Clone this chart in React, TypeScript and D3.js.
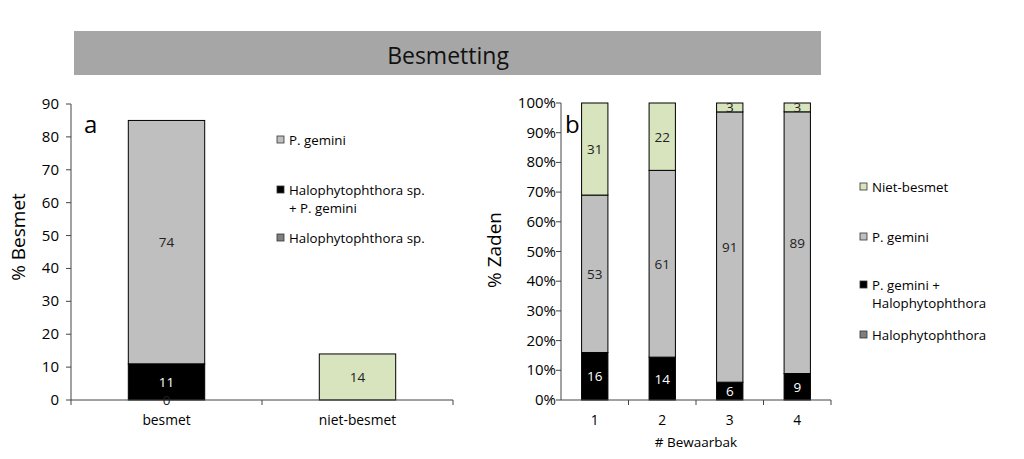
import React from "react";
import * as d3 from "d3";

const TITLE = "Besmetting";

// Chart a
const catsA = ["besmet", "niet-besmet"];
const halophytoA = [0, 0];
const halophytoGeminiA = [11, 0];
const geminiA = [74, 0];
const nietBesmetA = [0, 14];
const ticksA = [0, 10, 20, 30, 40, 50, 60, 70, 80, 90];

// Chart b
const catsB = ["1", "2", "3", "4"];
const halophytoB = [0, 0, 0, 0];
const geminiHalophytoB = [16, 14, 6, 9];
const geminiB = [53, 61, 91, 89];
const nietBesmetB = [31, 22, 3, 3];
const ticksB = [0, 0.1, 0.2, 0.3, 0.4, 0.5, 0.6, 0.7, 0.8, 0.9, 1];

const legendA = ["P. gemini", "Halophytophthora sp.|+ P. gemini", "Halophytophthora sp."];
const legendB = ["Niet-besmet", "P. gemini", "P. gemini +|Halophytophthora", "Halophytophthora"];

const C_GRAY = "#BFBFBF";
const C_BLACK = "#000000";
const C_GREEN = "#D7E4BD";
const C_DARK = "#7F7F7F";
const FONT = "'Open Sans', sans-serif";

export default function App() {
  // ---------- Chart a ----------
  const xA = d3.scaleBand<string>().domain(catsA).range([71, 453]).paddingInner(0.6).paddingOuter(0.3);
  const yA = d3.scaleLinear().domain([0, 90]).range([400, 104]);
  const seriesA = [
    { name: "halo", values: halophytoA, color: C_DARK, text: "#000" },
    { name: "halogem", values: halophytoGeminiA, color: C_BLACK, text: "#fff" },
    { name: "gem", values: geminiA, color: C_GRAY, text: "#000" },
    { name: "niet", values: nietBesmetA, color: C_GREEN, text: "#000" },
  ];
  const rowsA = catsA.map((c, i) => {
    const r: any = { cat: c };
    seriesA.forEach((s) => (r[s.name] = s.values[i]));
    return r;
  });
  const stackA = d3.stack<any>().keys(seriesA.map((s) => s.name))(rowsA);

  // ---------- Chart b ----------
  const xB = d3.scaleBand<string>().domain(catsB).range([561, 831]).paddingInner(0.61).paddingOuter(0.305);
  const yB = d3.scaleLinear().domain([0, 1]).range([400, 103]);
  const seriesB = [
    { name: "halo", values: halophytoB, color: C_DARK, text: "#000" },
    { name: "gemhalo", values: geminiHalophytoB, color: C_BLACK, text: "#fff" },
    { name: "gem", values: geminiB, color: C_GRAY, text: "#000" },
    { name: "niet", values: nietBesmetB, color: C_GREEN, text: "#000" },
  ];
  const rowsB = catsB.map((c, i) => {
    const r: any = { cat: c };
    seriesB.forEach((s) => (r[s.name] = s.values[i]));
    return r;
  });
  const stackB = d3.stack<any>().keys(seriesB.map((s) => s.name)).offset(d3.stackOffsetExpand)(rowsB);

  const fmtPct = d3.format(".0%");

  const legendItem = (label: string, color: string, x: number, y: number, key: string) => {
    const lines = label.split("|");
    return (
      <g key={key}>
        <rect x={x} y={y - 9} width={7} height={7} fill={color} stroke="#333" strokeWidth={0.8} />
        {lines.map((l, j) => (
          <text key={j} x={x + 12} y={y + j * 18} fontSize={13.3} fontFamily={FONT} fill="#000">
            {l}
          </text>
        ))}
      </g>
    );
  };

  return (
    <svg width={1024} height={459} style={{ position: "absolute", left: 0, top: 0, background: "#fff" }}>
      {/* Title */}
      <rect x={74} y={31} width={747} height={44} fill="#A6A6A6" />
      <text x={448} y={64} textAnchor="middle" fontSize={23} fontFamily={FONT} fill="#111">
        {TITLE}
      </text>

      {/* ===== Chart a ===== */}
      <line x1={71} x2={71} y1={yA(90)} y2={yA(0)} stroke="#444" />
      {ticksA.map((t) => (
        <g key={t}>
          <line x1={66} x2={71} y1={yA(t)} y2={yA(t)} stroke="#444" />
          <text x={59} y={yA(t) + 5} textAnchor="end" fontSize={15} fontFamily={FONT} fill="#000">
            {t}
          </text>
        </g>
      ))}
      {stackA.map((layer, li) =>
        layer.map((d, i) => {
          const s = seriesA[li];
          const v = s.values[i];
          const x0 = xA(catsA[i])!;
          const h = yA(d[0]) - yA(d[1]);
          if (li === 3 && v === 0) return null;
          if (i === 1 && li < 3) return null;
          return (
            <rect key={`a${li}-${i}`} x={x0} y={yA(d[1])} width={xA.bandwidth()} height={h}
              fill={s.color} stroke="#000" strokeWidth={1} />
          );
        })
      )}
      <line x1={71} x2={453} y1={400} y2={400} stroke="#444" />
      {[0, 1, 2].map((k) => {
        const xx = 71 + k * xA.step();
        return <line key={k} x1={xx} x2={xx} y1={400} y2={405} stroke="#444" />;
      })}
      {stackA.map((layer, li) =>
        layer.map((d, i) => {
          const s = seriesA[li];
          const v = s.values[i];
          if (li === 3 && i === 0) return null;
          if (i === 1 && li < 3) return null;
          const cy = (yA(d[0]) + yA(d[1])) / 2;
          return (
            <text key={`al${li}-${i}`} x={xA(catsA[i])! + xA.bandwidth() / 2} y={cy + 5}
              textAnchor="middle" fontSize={13.5} fontFamily={FONT} fill={s.text === "#fff" ? "#fff" : "#222"}>
              {v}
            </text>
          );
        })
      )}
      {catsA.map((c) => (
        <text key={c} x={xA(c)! + xA.bandwidth() / 2} y={425} textAnchor="middle" fontSize={13.8} fontFamily={FONT} fill="#000">
          {c}
        </text>
      ))}
      <text x={84} y={133} fontSize={24} fontFamily={FONT} fill="#000">a</text>
      <text transform="translate(25,237) rotate(-90)" textAnchor="middle" fontSize={19} fontFamily={FONT} fill="#000">
        % Besmet
      </text>
      {legendItem(legendA[0], C_GRAY, 277, 145, "la0")}
      {legendItem(legendA[1], C_BLACK, 277, 195, "la1")}
      {legendItem(legendA[2], C_DARK, 277, 243, "la2")}

      {/* ===== Chart b ===== */}
      <line x1={561} x2={561} y1={yB(1)} y2={yB(0)} stroke="#444" />
      {ticksB.map((t) => (
        <g key={t}>
          <line x1={556} x2={561} y1={yB(t)} y2={yB(t)} stroke="#444" />
          <text x={556} y={yB(t) + 5} textAnchor="end" fontSize={15} fontFamily={FONT} fill="#000">
            {fmtPct(t)}
          </text>
        </g>
      ))}
      {stackB.map((layer, li) =>
        layer.map((d, i) => {
          const s = seriesB[li];
          return (
            <rect key={`b${li}-${i}`} x={xB(catsB[i])!} y={yB(d[1])} width={xB.bandwidth()} height={yB(d[0]) - yB(d[1])}
              fill={s.color} stroke="#000" strokeWidth={1} />
          );
        })
      )}
      <line x1={561} x2={831} y1={400} y2={400} stroke="#444" />
      {catsB.map((_, k) => {
        const xx = 561 + (k + 1) * xB.step();
        return <line key={k} x1={xx} x2={xx} y1={400} y2={405} stroke="#444" />;
      })}
      {stackB.map((layer, li) =>
        layer.map((d, i) => {
          const s = seriesB[li];
          const v = s.values[i];
          if (v === 0) return null;
          const cy = (yB(d[0]) + yB(d[1])) / 2;
          return (
            <text key={`bl${li}-${i}`} x={xB(catsB[i])! + xB.bandwidth() / 2} y={cy + 5}
              textAnchor="middle" fontSize={13.5} fontFamily={FONT} fill={s.text === "#fff" ? "#fff" : "#222"}>
              {v}
            </text>
          );
        })
      )}
      {catsB.map((c) => (
        <text key={c} x={xB(c)! + xB.bandwidth() / 2} y={425} textAnchor="middle" fontSize={13.8} fontFamily={FONT} fill="#000">
          {c}
        </text>
      ))}
      <text x={696} y={447} textAnchor="middle" fontSize={13.5} fontFamily={FONT} fill="#000"># Bewaarbak</text>
      <text x={565} y={133} fontSize={24} fontFamily={FONT} fill="#000">b</text>
      <text transform="translate(501,250) rotate(-90)" textAnchor="middle" fontSize={19} fontFamily={FONT} fill="#000">
        % Zaden
      </text>
      {legendItem(legendB[0], C_GREEN, 860, 192, "lb0")}
      {legendItem(legendB[1], C_GRAY, 860, 242, "lb1")}
      {legendItem(legendB[2], C_BLACK, 860, 290, "lb2")}
      {legendItem(legendB[3], C_DARK, 860, 340, "lb3")}
    </svg>
  );
}
